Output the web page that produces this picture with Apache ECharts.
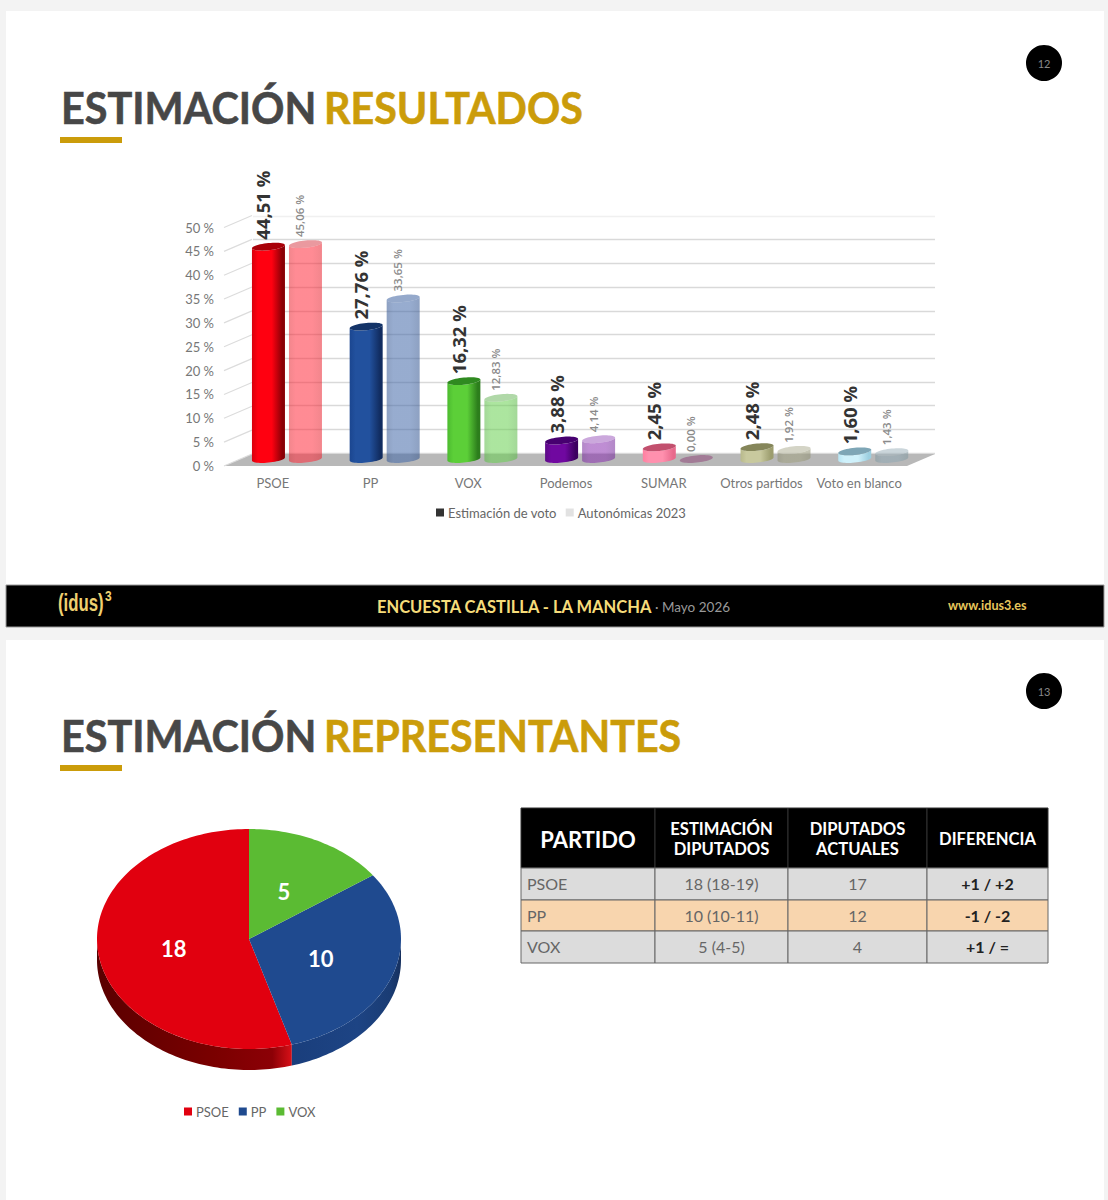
<!DOCTYPE html>
<html lang="es">
<head>
<meta charset="utf-8">
<title>Encuesta Castilla - La Mancha</title>
<script src="https://cdn.jsdelivr.net/npm/echarts@6/dist/echarts.min.js"></script>
<style>
html,body{margin:0;padding:0;background:#f3f3f3;}
#chart{width:1108px;height:1200px;}
</style>
</head>
<body>
<div id="chart"></div>
<script>
// ---- data ----
const categories = ['PSOE','PP','VOX','Podemos','SUMAR','Otros partidos','Voto en blanco'];
const estimacion = [44.51,27.76,16.32,3.88,2.45,2.48,1.60];
const autonomicas = [45.06,33.65,12.83,4.14,0.00,1.92,1.43];
const yTicks = [0,5,10,15,20,25,30,35,40,45,50];
const seatParties = ['VOX','PP','PSOE'];
const seats = [5,10,18];
const tableHeader = ['PARTIDO','ESTIMACIÓN\nDIPUTADOS','DIPUTADOS\nACTUALES','DIFERENCIA'];
const tableParties = ['PSOE','PP','VOX'];
const tableEstimate = ['18 (18-19)','10 (10-11)','5 (4-5)'];
const tableCurrent = ['17','12','4'];
const tableDiff = ['+1 / +2','-1 / -2','+1 / ='];

// ---- styles ----
const LATO = 'Lato, "Open Sans", sans-serif';
const GOLD = '#cb9c0a';
const DARKT = '#474747';
const partyStyle = [
  {l:'#d8000c',m:'#ff0010',d:'#8a0006',top:'#a80008',pale:'#ff2c3c',paleD:'#e8222e',paleTop:'#d84650'},
  {l:'#1b4690',m:'#22519e',d:'#112c60',top:'#143468',pale:'#4268a8',paleD:'#30538f',paleTop:'#3e62a0'},
  {l:'#4cbb30',m:'#5ccf38',d:'#2c7d1c',top:'#2f8a20',pale:'#68d050',paleD:'#58b844',paleTop:'#70b860'},
  {l:'#5c0a86',m:'#7008a0',d:'#3c0060',top:'#470070',pale:'#8a30b0',paleD:'#74289a',paleTop:'#a060c0'},
  {l:'#ff7fa0',m:'#ff90ae',d:'#e86a8c',top:'#c2506e',pale:'#90487a',paleD:'#90487a',paleTop:'#90487a'},
  {l:'#b8b98c',m:'#c8c99e',d:'#9c9d6e',top:'#85865a',pale:'#a0a080',paleD:'#8e8e70',paleTop:'#b0b098'},
  {l:'#b8e6f4',m:'#cff1fb',d:'#9ccfe0',top:'#7ea6b6',pale:'#90a8b4',paleD:'#80989f',paleTop:'#a0b4be'}
];
const pieStyle = {
  PSOE:{top:'#e1000f',stops:['#5a0000','#7a0000','#8c0006','#d81018']},
  PP:{top:'#1f4a8f',stops:['#1a3e7c','#1d4484','#1a3c74','#16305e']},
  VOX:{top:'#5bbb33',stops:['#4a9a28','#4a9a28','#4a9a28','#4a9a28']}
};

// ---- geometry helpers ----
const FW = 33, FRY = 3.6, FTILT = 1.6;
function arc(cx,cy,rx,ry,tilt,t0,t1,n){
  const pts = [];
  for(let i=0;i<=n;i++){
    const t = t0+(t1-t0)*i/n;
    pts.push([cx+rx*Math.cos(t), cy+ry*Math.sin(t)-tilt*Math.cos(t)]);
  }
  return pts;
}
function cylinderItem(series){
  const values = series===0 ? estimacion : autonomicas;
  return function(params,api){
    const idx = api.value(0), v = api.value(1);
    const base = api.coord([idx,0]), top = api.coord([idx,v]);
    const st = partyStyle[idx];
    const dx = series===0 ? -4.4 : 32.6, dy = -7;
    const cx = base[0]+dx, y0 = base[1]+dy, y1 = top[1]+dy;
    const rx = FW/2;
    const op = series===0 ? 1 : 0.55;
    const kids = [];
    if(y0-y1>0.5){
      const body = arc(cx,y0,rx,FRY,FTILT,0,Math.PI,24).concat(arc(cx,y1,rx,FRY,FTILT,Math.PI,0,24));
      const stops = series===0
        ? [{offset:0,color:st.l},{offset:.18,color:st.m},{offset:.6,color:st.m},{offset:.92,color:st.d},{offset:1,color:st.d}]
        : [{offset:0,color:st.paleD},{offset:.2,color:st.pale},{offset:.7,color:st.pale},{offset:1,color:st.paleD}];
      kids.push({type:'polygon',shape:{points:body},
        style:{fill:{type:'linear',x:0,y:0,x2:1,y2:0,colorStops:stops},opacity:op}});
    }
    kids.push({type:'polygon',shape:{points:arc(cx,y1,rx,FRY,FTILT,0,Math.PI*2,48)},
      style:{fill:series===0?st.top:st.paleTop,opacity:op}});
    const label = values[idx].toFixed(2).replace('.',',')+' %';
    kids.push({type:'text',x:cx-5.5,y:y1-7,rotation:Math.PI/2,z2:10,
      style:series===0
        ? {text:label,fontFamily:'"Open Sans"',fontWeight:700,fontSize:18.5,fill:'#333',textAlign:'left',textVerticalAlign:'middle'}
        : {text:label,fontFamily:'"Open Sans"',fontWeight:600,fontSize:11.5,fill:'#8a8a8a',textAlign:'left',textVerticalAlign:'middle'}});
    return {type:'group',children:kids};
  };
}
const frameItem = function(params,api){
  const v = api.value(0);
  const halfBand = api.size([1,0])[0]/2;
  const p = api.coord([0,v]);
  const x0 = p[0]-halfBand, ddx = 28, ddy = -12;
  const kids = [{type:'line',shape:{x1:x0,y1:p[1],x2:x0+ddx,y2:p[1]+ddy},style:{stroke:'#dcdcdc',lineWidth:1.2}}];
  if(v===0){
    const r = api.coord([categories.length-1,0])[0]+halfBand;
    kids.unshift({type:'polygon',shape:{points:[[x0,p[1]],[x0+ddx,p[1]+ddy],[r+ddx-1,p[1]+ddy],[r-1,p[1]]]},style:{fill:'#b8b8b8'}});
  }
  return {type:'group',children:kids};
};
const PCX=249, PCY=939, PRX=152, PRY=110, PD=21;
const seatTotal = seats.reduce((a,b)=>a+b,0);
function piePoint(a,yo){return [PCX+PRX*Math.sin(a), PCY-PRY*Math.cos(a)+(yo||0)];}
function pieArc(a0,a1,yo){
  const n=Math.max(2,Math.ceil(Math.abs(a1-a0)*40)),pts=[];
  for(let i=0;i<=n;i++) pts.push(piePoint(a0+(a1-a0)*i/n,yo));
  return pts;
}
function pieItem(i){
  return function(params,api){
    const v = api.value(0);
    let before = 0; for(let k=0;k<i;k++) before += seats[k];
    const a0 = before/seatTotal*Math.PI*2, a1 = (before+v)/seatTotal*Math.PI*2;
    const st = pieStyle[seatParties[i]];
    const kids = [];
    const s0 = Math.max(a0,Math.PI/2), s1 = Math.min(a1,Math.PI*1.5);
    if(s1>s0){
      const side = pieArc(s0,s1,0).concat(pieArc(s1,s0,PD));
      kids.push({type:'polygon',shape:{points:side},style:{fill:{type:'linear',x:0,y:0,x2:1,y2:0,
        colorStops:[{offset:0,color:st.stops[0]},{offset:.6,color:st.stops[1]},{offset:.9,color:st.stops[2]},{offset:1,color:st.stops[3]}]}}});
    }
    kids.push({type:'polygon',shape:{points:[[PCX,PCY]].concat(pieArc(a0,a1,0))},style:{fill:st.top}});
    const m = (a0+a1)/2, lp = [PCX+PRX*.5*Math.sin(m), PCY-PRY*.5*Math.cos(m)+1.5];
    kids.push({type:'text',x:lp[0],y:lp[1],z2:10,style:{text:String(v),fontFamily:LATO,fontWeight:700,fontSize:22,fill:'#fff',textAlign:'center',textVerticalAlign:'middle'}});
    return {type:'group',children:kids};
  };
}

// ---- page furniture ----
function txt(x,y,text,size,fill,weight,align,family,scaleX){
  const el = {type:'text',x:x,y:y,z:1,style:{text:text,fontFamily:family||LATO,fontSize:size,fontWeight:weight||400,fill:fill,textAlign:align||'left',textVerticalAlign:'middle'}};
  if(scaleX) el.scaleX = scaleX;
  return el;
}
function rect(x,y,w,h,fill,stroke,z){
  return {type:'rect',z:z==null?-1:z,shape:{x:x,y:y,width:w,height:h},style:{fill:fill,stroke:stroke||null,lineWidth:stroke?1:0}};
}
function titleText(x,y,text,fill,scaleX){
  const el = txt(x,y,text,44,fill,700,'left',LATO,scaleX);
  el.style.stroke = fill; el.style.lineWidth = 0.6;
  return el;
}
function slideParts(top,titleA,titleB,scaleB,num){
  return [
    titleText(61,top+96,titleA,DARKT,0.94),
    titleText(324,top+96,titleB,GOLD,scaleB),
    rect(60,top+126,62,6,GOLD),
    {type:'circle',z:0,shape:{cx:1044,cy:top+52,r:18},style:{fill:'#000'}},
    txt(1044,top+52,num,11,'#888',400,'center')
  ];
}
const colEdges=[521,655,788,927,1048], rowEdges=[808,868,900,931,963];
function tableParts(){
  const out=[];
  for(let c=0;c<4;c++){
    out.push(rect(colEdges[c],rowEdges[0],colEdges[c+1]-colEdges[c],rowEdges[1]-rowEdges[0],'#000','#333',0));
    const cx=(colEdges[c]+colEdges[c+1])/2, cy=(rowEdges[0]+rowEdges[1])/2+1;
    const t=txt(cx,cy,tableHeader[c],c===0?22:16.6,'#fff',700,'center');
    t.style.lineHeight=20;
    out.push(t);
  }
  for(let r=0;r<3;r++){
    const bg=r===1?'#f8d5ae':'#dcdcdc', y0=rowEdges[r+1], y1=rowEdges[r+2], cy=(y0+y1)/2-0.5;
    const cells=[tableParties[r],tableEstimate[r],tableCurrent[r],tableDiff[r]];
    for(let c=0;c<4;c++){
      out.push(rect(colEdges[c],y0,colEdges[c+1]-colEdges[c],y1-y0,bg,'#666',0));
      if(c===0) out.push(txt(colEdges[0]+6,cy,cells[c],16,'#666',400));
      else if(c===3) out.push(txt((colEdges[c]+colEdges[c+1])/2,cy,cells[c],16,'#222',700,'center'));
      else out.push(txt((colEdges[c]+colEdges[c+1])/2,cy,cells[c],16,'#666',400,'center'));
    }
  }
  return out;
}
const NARROW = '"Liberation Sans"';
const graphicEls = [
  rect(6,11,1098,616,'#fff'),
  rect(6,640,1098,560,'#fff'),
  rect(6,585,1098,42,'#000','#999',0)
].concat(
  slideParts(11,'ESTIMACIÓN','RESULTADOS',0.937,'12'),
  slideParts(639,'ESTIMACIÓN','REPRESENTANTES',0.937,'13'),
  [
    txt(58,602,'(idus)',24,'#efd070',700,'left',NARROW,0.7),
    txt(105,596,'3',15,'#efd070',700,'left',NARROW,0.8),
    txt(377,607,'ENCUESTA CASTILLA - LA MANCHA',16.5,'#f6dc7a',700),
    txt(655,607,'· Mayo 2026',13.5,'#999',400),
    txt(948,605,'www.idus3.es',12.6,'#e8c65c',700)
  ],
  tableParts()
);

const axisLabelColor='#777';
const gridColors = yTicks.map(v => v===50 ? '#f0f0f0' : '#d9d9d9');
const option = {
  animation:false,
  backgroundColor:'transparent',
  textStyle:{fontFamily:LATO},
  graphic:{elements:graphicEls},
  legend:[
    {left:431,top:501,icon:'rect',itemWidth:8,itemHeight:8,itemGap:9,selectedMode:false,
      textStyle:{color:'#666',fontSize:13,fontFamily:LATO,fontWeight:400,padding:[0,0,0,-1]},
      data:[{name:'Estimación de voto',itemStyle:{color:'#333'}},{name:'Autonómicas 2023',itemStyle:{color:'#e2e2e2'}}]},
    {left:179,top:1100,icon:'rect',itemWidth:8,itemHeight:8,itemGap:10,selectedMode:false,
      textStyle:{color:'#666',fontSize:13,fontFamily:LATO,fontWeight:400,padding:[0,0,0,-1]},
      data:['PSOE','PP','VOX']}
  ],
  grid:[
    {left:253,top:216,width:682,height:237},
    {left:224,top:227.5,width:684,height:238.5}
  ],
  xAxis:[
    {type:'category',gridIndex:0,data:categories,show:false},
    {type:'category',gridIndex:1,data:categories,axisLine:{show:false},axisTick:{show:false},
      axisLabel:{color:axisLabelColor,fontSize:13,fontFamily:LATO,margin:10,interval:0}}
  ],
  yAxis:[
    {type:'value',gridIndex:0,min:0,max:50,interval:5,axisLine:{show:false},axisTick:{show:false},axisLabel:{show:false},
      splitLine:{show:true,lineStyle:{color:gridColors,width:1.4}}},
    {type:'value',gridIndex:1,min:0,max:50,interval:5,axisLine:{show:false},axisTick:{show:false},splitLine:{show:false},
      axisLabel:{color:axisLabelColor,fontSize:13,fontFamily:LATO,margin:10,formatter:'{value} %'}}
  ],
  series:[
    {type:'custom',name:'_marco',xAxisIndex:1,yAxisIndex:1,silent:true,renderItem:frameItem,
      data:yTicks.map(v=>[v]),encode:{y:0}},
    {type:'custom',name:'Estimación de voto',xAxisIndex:1,yAxisIndex:1,silent:true,z:4,
      itemStyle:{color:'#333'},renderItem:cylinderItem(0),
      data:estimacion.map((v,i)=>[i,v]),encode:{x:0,y:1}},
    {type:'custom',name:'Autonómicas 2023',xAxisIndex:1,yAxisIndex:1,silent:true,z:3,
      itemStyle:{color:'#e2e2e2'},renderItem:cylinderItem(1),
      data:autonomicas.map((v,i)=>[i,v]),encode:{x:0,y:1}}
  ].concat(['PSOE','PP','VOX'].map(function(name){
    const i=seatParties.indexOf(name);
    return {type:'custom',name:name,coordinateSystem:'none',silent:true,
      itemStyle:{color:pieStyle[name].top},renderItem:pieItem(i),data:[[seats[i]]]};
  }))
};
const chart = echarts.init(document.getElementById('chart'),null,{renderer:'svg',width:1108,height:1200});
chart.setOption(option);
</script>
</body>
</html>
